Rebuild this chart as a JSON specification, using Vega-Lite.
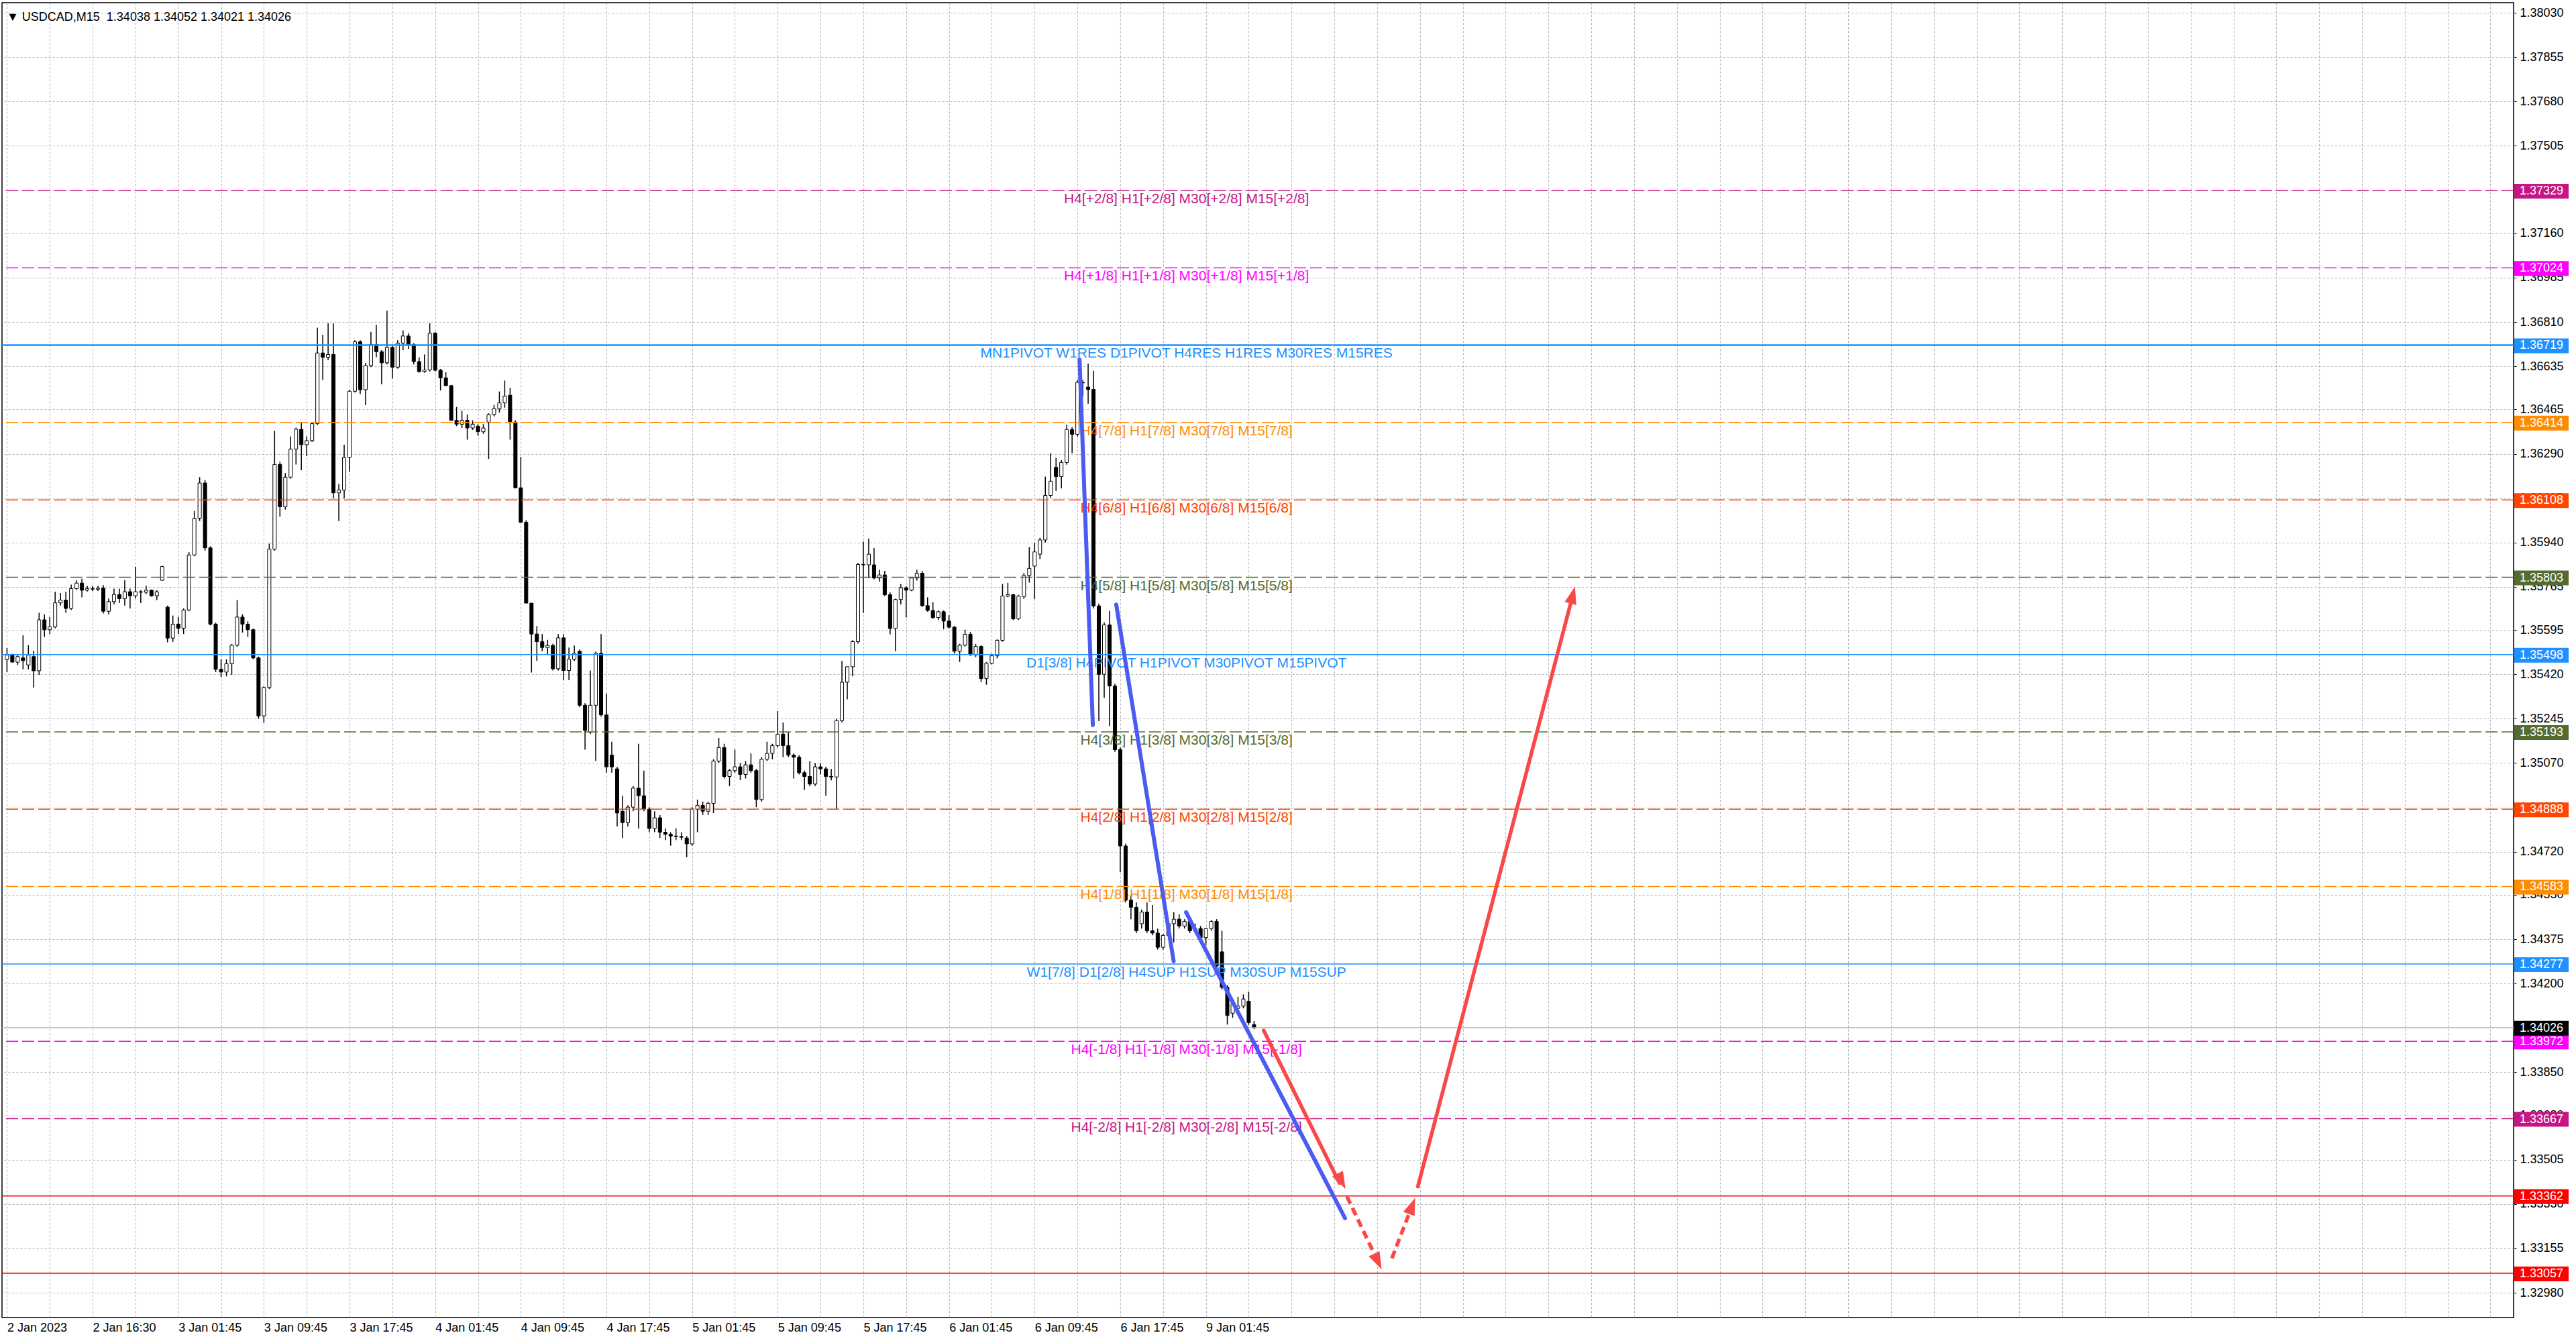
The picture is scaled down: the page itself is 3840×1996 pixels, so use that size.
{
  "$schema": "https://vega.github.io/schema/vega-lite/v6.json",
  "width": 3744,
  "height": 1960,
  "autosize": {"type": "none"},
  "padding": {"left": 3, "top": 4, "right": 93, "bottom": 32},
  "background": "white",
  "title": {
    "text": "▼\u00a0USDCAD,M15\u00a0\u00a01.34038 1.34052 1.34021 1.34026",
    "anchor": "start",
    "frame": "group",
    "baseline": "alphabetic",
    "offset": -45,
    "dx": 7,
    "fontSize": 18,
    "fontWeight": "normal",
    "font": "Liberation Sans",
    "color": "black"
  },
  "config": {
    "view": {"stroke": "black", "strokeWidth": 1.5},
    "font": "Liberation Sans"
  },
  "datasets": {
    "bars": [
      {"t":0,"o":1.35479,"h":1.35524,"l":1.35429,"c":1.35496},
      {"t":2,"o":1.35496,"h":1.35501,"l":1.35468,"c":1.35468},
      {"t":4,"o":1.35468,"h":1.35496,"l":1.35457,"c":1.35490},
      {"t":6,"o":1.35485,"h":1.35574,"l":1.35440,"c":1.35474},
      {"t":8,"o":1.35457,"h":1.35535,"l":1.35440,"c":1.35496},
      {"t":10,"o":1.35490,"h":1.35513,"l":1.35368,"c":1.35434},
      {"t":12,"o":1.35434,"h":1.35663,"l":1.35418,"c":1.35635},
      {"t":14,"o":1.35635,"h":1.35657,"l":1.35568,"c":1.35596},
      {"t":16,"o":1.35596,"h":1.35646,"l":1.35579,"c":1.35607},
      {"t":18,"o":1.35607,"h":1.35746,"l":1.35601,"c":1.35702},
      {"t":20,"o":1.35702,"h":1.35741,"l":1.35691,"c":1.35713},
      {"t":22,"o":1.35713,"h":1.35746,"l":1.35663,"c":1.35680},
      {"t":24,"o":1.35680,"h":1.35774,"l":1.35674,"c":1.35758},
      {"t":26,"o":1.35758,"h":1.35791,"l":1.35752,"c":1.35780},
      {"t":28,"o":1.35780,"h":1.35797,"l":1.35724,"c":1.35752},
      {"t":30,"o":1.35752,"h":1.35769,"l":1.35747,"c":1.35758},
      {"t":32,"o":1.35758,"h":1.35769,"l":1.35749,"c":1.35756},
      {"t":34,"o":1.35756,"h":1.35769,"l":1.35749,"c":1.35760},
      {"t":36,"o":1.35760,"h":1.35772,"l":1.35660,"c":1.35669},
      {"t":38,"o":1.35669,"h":1.35719,"l":1.35657,"c":1.35707},
      {"t":40,"o":1.35707,"h":1.35758,"l":1.35696,"c":1.35735},
      {"t":42,"o":1.35735,"h":1.35758,"l":1.35702,"c":1.35719},
      {"t":44,"o":1.35719,"h":1.35791,"l":1.35691,"c":1.35746},
      {"t":46,"o":1.35746,"h":1.35758,"l":1.35680,"c":1.35730},
      {"t":48,"o":1.35730,"h":1.35845,"l":1.35719,"c":1.35746},
      {"t":50,"o":1.35746,"h":1.35752,"l":1.35701,"c":1.35744},
      {"t":52,"o":1.35744,"h":1.35769,"l":1.35737,"c":1.35752},
      {"t":54,"o":1.35752,"h":1.35755,"l":1.35726,"c":1.35730},
      {"t":56,"o":1.35730,"h":1.35752,"l":1.35713,"c":1.35746},
      {"t":58,"o":1.35791,"h":1.35849,"l":1.35789,"c":1.35845},
      {"t":60,"o":1.35685,"h":1.35691,"l":1.35546,"c":1.35563},
      {"t":62,"o":1.35563,"h":1.35652,"l":1.35548,"c":1.35618},
      {"t":64,"o":1.35618,"h":1.35646,"l":1.35579,"c":1.35602},
      {"t":66,"o":1.35602,"h":1.35680,"l":1.35579,"c":1.35674},
      {"t":68,"o":1.35674,"h":1.35902,"l":1.35669,"c":1.35891},
      {"t":70,"o":1.35891,"h":1.36064,"l":1.35886,"c":1.36036},
      {"t":72,"o":1.36036,"h":1.36198,"l":1.36025,"c":1.36175},
      {"t":74,"o":1.36175,"h":1.36186,"l":1.35908,"c":1.35919},
      {"t":76,"o":1.35919,"h":1.35925,"l":1.35613,"c":1.35618},
      {"t":78,"o":1.35618,"h":1.35624,"l":1.35429,"c":1.35440},
      {"t":80,"o":1.35440,"h":1.35479,"l":1.35410,"c":1.35429},
      {"t":82,"o":1.35429,"h":1.35479,"l":1.35412,"c":1.35462},
      {"t":84,"o":1.35462,"h":1.35540,"l":1.35418,"c":1.35535},
      {"t":86,"o":1.35535,"h":1.35713,"l":1.35529,"c":1.35646},
      {"t":88,"o":1.35646,"h":1.35657,"l":1.35585,"c":1.35618},
      {"t":90,"o":1.35618,"h":1.35629,"l":1.35568,"c":1.35596},
      {"t":92,"o":1.35596,"h":1.35601,"l":1.35479,"c":1.35485},
      {"t":94,"o":1.35485,"h":1.35490,"l":1.35245,"c":1.35256},
      {"t":96,"o":1.35256,"h":1.35373,"l":1.35228,"c":1.35368},
      {"t":98,"o":1.35368,"h":1.35936,"l":1.35362,"c":1.35914},
      {"t":100,"o":1.35914,"h":1.36381,"l":1.35908,"c":1.36248},
      {"t":102,"o":1.36248,"h":1.36259,"l":1.36042,"c":1.36081},
      {"t":104,"o":1.36081,"h":1.36214,"l":1.36070,"c":1.36198},
      {"t":106,"o":1.36198,"h":1.36359,"l":1.36192,"c":1.36309},
      {"t":108,"o":1.36309,"h":1.36393,"l":1.36248,"c":1.36387},
      {"t":110,"o":1.36387,"h":1.36415,"l":1.36225,"c":1.36326},
      {"t":112,"o":1.36326,"h":1.36359,"l":1.36281,"c":1.36342},
      {"t":114,"o":1.36342,"h":1.36415,"l":1.36337,"c":1.36409},
      {"t":116,"o":1.36409,"h":1.36788,"l":1.36404,"c":1.36688},
      {"t":118,"o":1.36688,"h":1.36760,"l":1.36582,"c":1.36671},
      {"t":120,"o":1.36671,"h":1.36805,"l":1.36660,"c":1.36682},
      {"t":122,"o":1.36682,"h":1.36805,"l":1.36114,"c":1.36136},
      {"t":124,"o":1.36136,"h":1.36170,"l":1.36025,"c":1.36147},
      {"t":126,"o":1.36147,"h":1.36326,"l":1.36114,"c":1.36276},
      {"t":128,"o":1.36276,"h":1.36543,"l":1.36220,"c":1.36537},
      {"t":130,"o":1.36537,"h":1.36738,"l":1.36532,"c":1.36732},
      {"t":132,"o":1.36732,"h":1.36738,"l":1.36526,"c":1.36543},
      {"t":134,"o":1.36543,"h":1.36649,"l":1.36482,"c":1.36638},
      {"t":136,"o":1.36638,"h":1.36771,"l":1.36632,"c":1.36721},
      {"t":138,"o":1.36721,"h":1.36799,"l":1.36671,"c":1.36693},
      {"t":140,"o":1.36693,"h":1.36699,"l":1.36565,"c":1.36649},
      {"t":142,"o":1.36649,"h":1.36855,"l":1.36643,"c":1.36710},
      {"t":144,"o":1.36710,"h":1.36716,"l":1.36587,"c":1.36632},
      {"t":146,"o":1.36632,"h":1.36738,"l":1.36626,"c":1.36727},
      {"t":148,"o":1.36727,"h":1.36777,"l":1.36699,"c":1.36755},
      {"t":150,"o":1.36755,"h":1.36766,"l":1.36704,"c":1.36721},
      {"t":152,"o":1.36721,"h":1.36727,"l":1.36643,"c":1.36654},
      {"t":154,"o":1.36654,"h":1.36671,"l":1.36610,"c":1.36615},
      {"t":156,"o":1.36615,"h":1.36682,"l":1.36610,"c":1.36621},
      {"t":158,"o":1.36621,"h":1.36805,"l":1.36615,"c":1.36766},
      {"t":160,"o":1.36766,"h":1.36771,"l":1.36615,"c":1.36620},
      {"t":162,"o":1.36620,"h":1.36625,"l":1.36540,"c":1.36590},
      {"t":164,"o":1.36590,"h":1.36612,"l":1.36559,"c":1.36559},
      {"t":166,"o":1.36559,"h":1.36562,"l":1.36422,"c":1.36422},
      {"t":168,"o":1.36422,"h":1.36475,"l":1.36399,"c":1.36407},
      {"t":170,"o":1.36407,"h":1.36460,"l":1.36392,"c":1.36422},
      {"t":172,"o":1.36422,"h":1.36445,"l":1.36346,"c":1.36392},
      {"t":174,"o":1.36392,"h":1.36422,"l":1.36384,"c":1.36407},
      {"t":176,"o":1.36399,"h":1.36407,"l":1.36362,"c":1.36377},
      {"t":178,"o":1.36377,"h":1.36407,"l":1.36369,"c":1.36392},
      {"t":180,"o":1.36415,"h":1.36450,"l":1.36270,"c":1.36445},
      {"t":182,"o":1.36445,"h":1.36483,"l":1.36438,"c":1.36468},
      {"t":184,"o":1.36468,"h":1.36536,"l":1.36453,"c":1.36491},
      {"t":186,"o":1.36491,"h":1.36579,"l":1.36472,"c":1.36518},
      {"t":188,"o":1.36521,"h":1.36551,"l":1.36346,"c":1.36415},
      {"t":190,"o":1.36415,"h":1.36422,"l":1.36156,"c":1.36156},
      {"t":192,"o":1.36156,"h":1.36278,"l":1.36020,"c":1.36020},
      {"t":194,"o":1.36020,"h":1.36028,"l":1.35701,"c":1.35701},
      {"t":196,"o":1.35701,"h":1.35701,"l":1.35427,"c":1.35579},
      {"t":198,"o":1.35579,"h":1.35610,"l":1.35473,"c":1.35549},
      {"t":200,"o":1.35549,"h":1.35579,"l":1.35511,"c":1.35526},
      {"t":202,"o":1.35526,"h":1.35556,"l":1.35496,"c":1.35534},
      {"t":204,"o":1.35534,"h":1.35541,"l":1.35435,"c":1.35442},
      {"t":206,"o":1.35442,"h":1.35579,"l":1.35435,"c":1.35564},
      {"t":208,"o":1.35564,"h":1.35579,"l":1.35397,"c":1.35435},
      {"t":210,"o":1.35435,"h":1.35526,"l":1.35397,"c":1.35480},
      {"t":212,"o":1.35480,"h":1.35534,"l":1.35473,"c":1.35503},
      {"t":214,"o":1.35511,"h":1.35518,"l":1.35290,"c":1.35298},
      {"t":216,"o":1.35298,"h":1.35306,"l":1.35123,"c":1.35199},
      {"t":218,"o":1.35192,"h":1.35435,"l":1.35184,"c":1.35298},
      {"t":220,"o":1.35298,"h":1.35510,"l":1.35078,"c":1.35503},
      {"t":222,"o":1.35503,"h":1.35579,"l":1.35253,"c":1.35260},
      {"t":224,"o":1.35260,"h":1.35344,"l":1.35032,"c":1.35055},
      {"t":226,"o":1.35101,"h":1.35154,"l":1.35032,"c":1.35055},
      {"t":228,"o":1.35047,"h":1.35055,"l":1.34820,"c":1.34873},
      {"t":230,"o":1.34880,"h":1.34941,"l":1.34774,"c":1.34835},
      {"t":232,"o":1.34835,"h":1.34903,"l":1.34820,"c":1.34896},
      {"t":234,"o":1.34896,"h":1.34979,"l":1.34880,"c":1.34971},
      {"t":236,"o":1.34971,"h":1.35146,"l":1.34812,"c":1.34941},
      {"t":238,"o":1.34941,"h":1.35040,"l":1.34880,"c":1.34888},
      {"t":240,"o":1.34888,"h":1.34896,"l":1.34797,"c":1.34812},
      {"t":242,"o":1.34812,"h":1.34880,"l":1.34797,"c":1.34854},
      {"t":244,"o":1.34854,"h":1.34865,"l":1.34774,"c":1.34797},
      {"t":246,"o":1.34797,"h":1.34812,"l":1.34766,"c":1.34789},
      {"t":248,"o":1.34789,"h":1.34797,"l":1.34744,"c":1.34782},
      {"t":250,"o":1.34782,"h":1.34812,"l":1.34766,"c":1.34780},
      {"t":252,"o":1.34780,"h":1.34797,"l":1.34766,"c":1.34777},
      {"t":254,"o":1.34774,"h":1.34782,"l":1.34698,"c":1.34751},
      {"t":256,"o":1.34751,"h":1.34896,"l":1.34744,"c":1.34888},
      {"t":258,"o":1.34888,"h":1.34926,"l":1.34797,"c":1.34903},
      {"t":260,"o":1.34903,"h":1.34918,"l":1.34865,"c":1.34880},
      {"t":262,"o":1.34880,"h":1.34918,"l":1.34865,"c":1.34911},
      {"t":264,"o":1.34911,"h":1.35085,"l":1.34873,"c":1.35078},
      {"t":266,"o":1.35078,"h":1.35169,"l":1.35070,"c":1.35131},
      {"t":268,"o":1.35131,"h":1.35146,"l":1.35009,"c":1.35017},
      {"t":270,"o":1.35017,"h":1.35047,"l":1.34979,"c":1.35040},
      {"t":272,"o":1.35040,"h":1.35123,"l":1.35032,"c":1.35055},
      {"t":274,"o":1.35055,"h":1.35070,"l":1.35002,"c":1.35025},
      {"t":276,"o":1.35025,"h":1.35078,"l":1.35009,"c":1.35063},
      {"t":278,"o":1.35063,"h":1.35108,"l":1.35032,"c":1.35040},
      {"t":280,"o":1.35040,"h":1.35047,"l":1.34896,"c":1.34926},
      {"t":282,"o":1.34926,"h":1.35093,"l":1.34918,"c":1.35085},
      {"t":284,"o":1.35085,"h":1.35154,"l":1.35078,"c":1.35108},
      {"t":286,"o":1.35108,"h":1.35146,"l":1.35085,"c":1.35139},
      {"t":288,"o":1.35139,"h":1.35275,"l":1.35131,"c":1.35184},
      {"t":290,"o":1.35184,"h":1.35230,"l":1.35093,"c":1.35139},
      {"t":292,"o":1.35139,"h":1.35192,"l":1.35093,"c":1.35101},
      {"t":294,"o":1.35101,"h":1.35108,"l":1.35009,"c":1.35093},
      {"t":296,"o":1.35093,"h":1.35101,"l":1.35025,"c":1.35032},
      {"t":298,"o":1.35032,"h":1.35040,"l":1.34964,"c":1.35017},
      {"t":300,"o":1.35017,"h":1.35078,"l":1.34979,"c":1.34987},
      {"t":302,"o":1.34987,"h":1.35070,"l":1.34979,"c":1.35055},
      {"t":304,"o":1.35055,"h":1.35070,"l":1.35025,"c":1.35047},
      {"t":306,"o":1.35047,"h":1.35055,"l":1.34941,"c":1.35017},
      {"t":308,"o":1.35017,"h":1.35047,"l":1.35002,"c":1.35015},
      {"t":310,"o":1.35015,"h":1.35245,"l":1.34888,"c":1.35237},
      {"t":312,"o":1.35237,"h":1.35473,"l":1.35230,"c":1.35389},
      {"t":314,"o":1.35389,"h":1.35412,"l":1.35321,"c":1.35450},
      {"t":316,"o":1.35450,"h":1.35555,"l":1.35412,"c":1.35549},
      {"t":318,"o":1.35549,"h":1.35860,"l":1.35541,"c":1.35853},
      {"t":320,"o":1.35853,"h":1.35944,"l":1.35663,"c":1.35852},
      {"t":322,"o":1.35852,"h":1.35956,"l":1.35800,"c":1.35894},
      {"t":324,"o":1.35852,"h":1.35918,"l":1.35795,"c":1.35800},
      {"t":326,"o":1.35800,"h":1.35833,"l":1.35786,"c":1.35812},
      {"t":328,"o":1.35812,"h":1.35828,"l":1.35729,"c":1.35734},
      {"t":330,"o":1.35734,"h":1.35743,"l":1.35578,"c":1.35601},
      {"t":332,"o":1.35601,"h":1.35719,"l":1.35511,"c":1.35715},
      {"t":334,"o":1.35715,"h":1.35776,"l":1.35696,"c":1.35762},
      {"t":336,"o":1.35762,"h":1.35767,"l":1.35644,"c":1.35752},
      {"t":338,"o":1.35752,"h":1.35804,"l":1.35748,"c":1.35800},
      {"t":340,"o":1.35800,"h":1.35833,"l":1.35790,"c":1.35819},
      {"t":342,"o":1.35819,"h":1.35828,"l":1.35686,"c":1.35691},
      {"t":344,"o":1.35691,"h":1.35724,"l":1.35667,"c":1.35672},
      {"t":346,"o":1.35672,"h":1.35705,"l":1.35639,"c":1.35644},
      {"t":348,"o":1.35644,"h":1.35672,"l":1.35634,"c":1.35667},
      {"t":350,"o":1.35667,"h":1.35672,"l":1.35598,"c":1.35630},
      {"t":352,"o":1.35630,"h":1.35653,"l":1.35601,"c":1.35606},
      {"t":354,"o":1.35606,"h":1.35611,"l":1.35502,"c":1.35511},
      {"t":356,"o":1.35511,"h":1.35540,"l":1.35469,"c":1.35535},
      {"t":358,"o":1.35535,"h":1.35596,"l":1.35530,"c":1.35578},
      {"t":360,"o":1.35578,"h":1.35587,"l":1.35493,"c":1.35497},
      {"t":362,"o":1.35497,"h":1.35540,"l":1.35488,"c":1.35530},
      {"t":364,"o":1.35530,"h":1.35535,"l":1.35389,"c":1.35403},
      {"t":366,"o":1.35403,"h":1.35469,"l":1.35379,"c":1.35464},
      {"t":368,"o":1.35464,"h":1.35502,"l":1.35459,"c":1.35493},
      {"t":370,"o":1.35493,"h":1.35559,"l":1.35483,"c":1.35554},
      {"t":372,"o":1.35554,"h":1.35776,"l":1.35549,"c":1.35729},
      {"t":374,"o":1.35729,"h":1.35781,"l":1.35724,"c":1.35734},
      {"t":376,"o":1.35734,"h":1.35738,"l":1.35634,"c":1.35639},
      {"t":378,"o":1.35639,"h":1.35734,"l":1.35634,"c":1.35729},
      {"t":380,"o":1.35727,"h":1.35820,"l":1.35717,"c":1.35810},
      {"t":382,"o":1.35810,"h":1.35922,"l":1.35782,"c":1.35838},
      {"t":384,"o":1.35847,"h":1.35940,"l":1.35717,"c":1.35903},
      {"t":386,"o":1.35894,"h":1.35959,"l":1.35875,"c":1.35950},
      {"t":388,"o":1.35950,"h":1.36200,"l":1.35940,"c":1.36126},
      {"t":390,"o":1.36126,"h":1.36293,"l":1.36117,"c":1.36182},
      {"t":392,"o":1.36237,"h":1.36274,"l":1.36144,"c":1.36200},
      {"t":394,"o":1.36200,"h":1.36265,"l":1.36154,"c":1.36256},
      {"t":396,"o":1.36256,"h":1.36405,"l":1.36247,"c":1.36386},
      {"t":398,"o":1.36386,"h":1.36395,"l":1.36293,"c":1.36367},
      {"t":400,"o":1.36367,"h":1.36581,"l":1.36358,"c":1.36572},
      {"t":402,"o":1.36572,"h":1.36581,"l":1.36516,"c":1.36570},
      {"t":404,"o":1.36553,"h":1.36646,"l":1.36488,"c":1.36544},
      {"t":406,"o":1.36544,"h":1.36618,"l":1.35680,"c":1.35690},
      {"t":408,"o":1.35690,"h":1.35699,"l":1.35235,"c":1.35420},
      {"t":410,"o":1.35420,"h":1.35625,"l":1.35327,"c":1.35615},
      {"t":412,"o":1.35615,"h":1.35671,"l":1.35216,"c":1.35374},
      {"t":414,"o":1.35374,"h":1.35383,"l":1.35114,"c":1.35123},
      {"t":416,"o":1.35123,"h":1.35132,"l":1.34640,"c":1.34743},
      {"t":418,"o":1.34743,"h":1.34752,"l":1.34520,"c":1.34529},
      {"t":420,"o":1.34529,"h":1.34547,"l":1.34454,"c":1.34501},
      {"t":422,"o":1.34501,"h":1.34520,"l":1.34399,"c":1.34408},
      {"t":424,"o":1.34436,"h":1.34492,"l":1.34417,"c":1.34482},
      {"t":426,"o":1.34482,"h":1.34520,"l":1.34399,"c":1.34408},
      {"t":428,"o":1.34408,"h":1.34510,"l":1.34390,"c":1.34399},
      {"t":430,"o":1.34399,"h":1.34417,"l":1.34334,"c":1.34343},
      {"t":432,"o":1.34343,"h":1.34395,"l":1.34334,"c":1.34390},
      {"t":434,"o":1.34390,"h":1.34445,"l":1.34381,"c":1.34436},
      {"t":436,"o":1.34436,"h":1.34482,"l":1.34362,"c":1.34454},
      {"t":438,"o":1.34454,"h":1.34473,"l":1.34417,"c":1.34427},
      {"t":440,"o":1.34427,"h":1.34454,"l":1.34417,"c":1.34445},
      {"t":442,"o":1.34445,"h":1.34454,"l":1.34399,"c":1.34408},
      {"t":444,"o":1.34408,"h":1.34436,"l":1.34399,"c":1.34417},
      {"t":446,"o":1.34417,"h":1.34427,"l":1.34371,"c":1.34381},
      {"t":448,"o":1.34381,"h":1.34420,"l":1.34352,"c":1.34417},
      {"t":450,"o":1.34417,"h":1.34450,"l":1.34408,"c":1.34445},
      {"t":452,"o":1.34445,"h":1.34454,"l":1.34260,"c":1.34269},
      {"t":454,"o":1.34325,"h":1.34408,"l":1.34176,"c":1.34185},
      {"t":456,"o":1.34185,"h":1.34194,"l":1.34038,"c":1.34074},
      {"t":458,"o":1.34083,"h":1.34139,"l":1.34065,"c":1.34120},
      {"t":460,"o":1.34102,"h":1.34148,"l":1.34083,"c":1.34111},
      {"t":462,"o":1.34111,"h":1.34157,"l":1.34102,"c":1.34139},
      {"t":464,"o":1.34130,"h":1.34167,"l":1.34037,"c":1.34046},
      {"t":466,"o":1.34038,"h":1.34052,"l":1.34021,"c":1.34026}
    ],
    "levels": [
      {"lvl":"+2/8","p":1.37329,"label":"H4[+2/8] H1[+2/8] M30[+2/8] M15[+2/8]"},
      {"lvl":"+1/8","p":1.37024,"label":"H4[+1/8] H1[+1/8] M30[+1/8] M15[+1/8]"},
      {"lvl":"8/8","p":1.36719,"label":"MN1PIVOT W1RES D1PIVOT H4RES H1RES M30RES M15RES"},
      {"lvl":"7/8","p":1.36414,"label":"H4[7/8] H1[7/8] M30[7/8] M15[7/8]"},
      {"lvl":"6/8","p":1.36108,"label":"H4[6/8] H1[6/8] M30[6/8] M15[6/8]"},
      {"lvl":"5/8","p":1.35803,"label":"H4[5/8] H1[5/8] M30[5/8] M15[5/8]"},
      {"lvl":"4/8","p":1.35498,"label":"D1[3/8] H4PIVOT H1PIVOT M30PIVOT M15PIVOT"},
      {"lvl":"3/8","p":1.35193,"label":"H4[3/8] H1[3/8] M30[3/8] M15[3/8]"},
      {"lvl":"2/8","p":1.34888,"label":"H4[2/8] H1[2/8] M30[2/8] M15[2/8]"},
      {"lvl":"1/8","p":1.34583,"label":"H4[1/8] H1[1/8] M30[1/8] M15[1/8]"},
      {"lvl":"0/8","p":1.34277,"label":"W1[7/8] D1[2/8] H4SUP H1SUP M30SUP M15SUP"},
      {"lvl":"-1/8","p":1.33972,"label":"H4[-1/8] H1[-1/8] M30[-1/8] M15[-1/8]"},
      {"lvl":"-2/8","p":1.33667,"label":"H4[-2/8] H1[-2/8] M30[-2/8] M15[-2/8]"},
      {"lvl":"R1","p":1.33362,"label":""},
      {"lvl":"R2","p":1.33057,"label":""},
      {"lvl":"bid","p":1.34026,"label":""}
    ],
    "blue": [
      {"seg":"b1","t":400.8,"p":1.36661},
      {"seg":"b1","t":405.75,"p":1.35220},
      {"seg":"b2","t":414.5,"p":1.35695},
      {"seg":"b2","t":435.95,"p":1.34288},
      {"seg":"b3","t":440.6,"p":1.34481},
      {"seg":"b3","t":499.98,"p":1.33274}
    ],
    "redSolid": [
      {"seg":"r1","t":469.6,"p":1.34015},
      {"seg":"r1","t":497.9,"p":1.33413},
      {"seg":"r2","t":527.2,"p":1.33399},
      {"seg":"r2","t":585.3,"p":1.35740}
    ],
    "redDash": [
      {"seg":"d1","t":500.7,"p":1.33360},
      {"seg":"d1","t":512.6,"p":1.33096},
      {"seg":"d2","t":517.5,"p":1.33116},
      {"seg":"d2","t":525.3,"p":1.33330}
    ],
    "heads": [
      {"id":"a1","t":500.2,"p":1.33389},
      {"id":"a2","t":513.65,"p":1.33072},
      {"id":"a3","t":526.2,"p":1.33355},
      {"id":"a4","t":585.9,"p":1.35766}
    ]
  },
  "layer": [
    {
      "data": {"name": "bars"},
      "mark": {"type": "rule", "color": "black", "strokeWidth": 1.5},
      "encoding": {
        "x": {
          "field": "t",
          "type": "quantitative",
          "title": null,
          "scale": {"domain": [-0.6, 935.4], "nice": false, "zero": false},
          "axis": {
            "title": null,
            "values": [0,16,32,48,64,80,96,112,128,144,160,176,192,208,224,240,256,272,288,304,320,336,352,368,384,400,416,432,448,464,480,496,512,528,544,560,576,592,608,624,640,656,672,688,704,720,736,752,768,784,800,816,832,848,864,880,896,912,928],
            "labelExpr": "datum.value % 32 == 0 && datum.value <= 448 ? ['2 Jan 2023','2 Jan 16:30','3 Jan 01:45','3 Jan 09:45','3 Jan 17:45','4 Jan 01:45','4 Jan 09:45','4 Jan 17:45','5 Jan 01:45','5 Jan 09:45','5 Jan 17:45','6 Jan 01:45','6 Jan 09:45','6 Jan 17:45','9 Jan 01:45'][datum.value / 32] : ''",
            "labelAlign": "left",
            "labelBaseline": "top",
            "labelPadding": 6,
            "labelFontSize": 18,
            "labelColor": "black",
            "labelOverlap": false,
            "labelFlush": false,
            "labelBound": false,
            "ticks": false,
            "domain": false,
            "grid": true,
            "gridColor": "#b4b4b4",
            "gridDash": [3, 3],
            "gridWidth": 1.1
          }
        },
        "y": {
          "field": "l",
          "type": "quantitative",
          "title": null,
          "scale": {"domain": [1.328822, 1.380701], "nice": false, "zero": false},
          "axis": {
            "title": null,
            "orient": "right",
            "values": [1.38030,1.37855,1.37680,1.37505,1.37330,1.37160,1.36985,1.36810,1.36635,1.36465,1.36290,1.36115,1.35940,1.35765,1.35595,1.35420,1.35245,1.35070,1.34895,1.34720,1.34550,1.34375,1.34200,1.34025,1.33850,1.33680,1.33505,1.33330,1.33155,1.32980],
            "format": ".5f",
            "tickSize": 4,
            "tickColor": "black",
            "labelPadding": 5,
            "labelFontSize": 18,
            "labelColor": "black",
            "labelOverlap": false,
            "labelFlush": false,
            "labelBound": false,
            "domain": false,
            "grid": true,
            "gridColor": "#b4b4b4",
            "gridDash": [3, 3],
            "gridWidth": 1.1
          }
        },
        "y2": {"field": "h"}
      }
    },
    {
      "data": {"name": "bars"},
      "mark": {"type": "bar", "width": 5, "stroke": "black", "strokeWidth": 1},
      "encoding": {
        "x": {"field": "t", "type": "quantitative", "title": null},
        "y": {"field": "o", "type": "quantitative", "title": null},
        "y2": {"field": "c"},
        "fill": {"condition": {"test": "datum.c >= datum.o", "value": "white"}, "value": "black"}
      }
    },
    {
      "data": {"name": "levels"},
      "transform": [{"filter": {"field": "lvl", "oneOf": ["+2/8","+1/8","7/8","6/8","5/8","3/8","2/8","1/8","-1/8","-2/8"]}}],
      "mark": {"type": "rule", "strokeWidth": 1.4, "strokeDash": [18, 6]},
      "encoding": {
        "y": {"field": "p", "type": "quantitative", "title": null},
        "stroke": {
          "field": "lvl", "type": "nominal", "legend": null,
          "scale": {
            "domain": ["+2/8","+1/8","8/8","7/8","6/8","5/8","4/8","3/8","2/8","1/8","0/8","-1/8","-2/8","R1","R2","bid"],
            "range": ["#C71585","#FF00FF","#1E90FF","#FF8C00","#FF4500","#556B2F","#1E90FF","#556B2F","#FF4500","#FF8C00","#1E90FF","#FF00FF","#C71585","#FF0000","#FF0000","#B4B4B4"]
          }
        }
      }
    },
    {
      "data": {"name": "levels"},
      "transform": [{"filter": {"field": "lvl", "oneOf": ["4/8","0/8","R1","R2","bid"]}}],
      "mark": {"type": "rule", "strokeWidth": 1.4},
      "encoding": {
        "y": {"field": "p", "type": "quantitative", "title": null},
        "stroke": {"field": "lvl", "type": "nominal", "legend": null}
      }
    },
    {
      "data": {"name": "levels"},
      "transform": [{"filter": {"field": "lvl", "equal": "8/8"}}],
      "mark": {"type": "rule", "strokeWidth": 2.4},
      "encoding": {
        "y": {"field": "p", "type": "quantitative", "title": null},
        "stroke": {"field": "lvl", "type": "nominal", "legend": null}
      }
    },
    {
      "data": {"name": "levels"},
      "transform": [{"filter": "datum.label != ''"}],
      "mark": {"type": "text", "align": "center", "baseline": "top", "dy": 2, "fontSize": 21},
      "encoding": {
        "x": {"datum": 440.75, "type": "quantitative"},
        "y": {"field": "p", "type": "quantitative", "title": null},
        "text": {"field": "label"},
        "fill": {
          "field": "lvl", "type": "nominal", "legend": null,
          "scale": {
            "domain": ["+2/8","+1/8","8/8","7/8","6/8","5/8","4/8","3/8","2/8","1/8","0/8","-1/8","-2/8","R1","R2","bid"],
            "range": ["#C71585","#FF00FF","#1E90FF","#FF8C00","#FF4500","#556B2F","#1E90FF","#556B2F","#FF4500","#FF8C00","#1E90FF","#FF00FF","#C71585","#FF0000","#FF0000","#000000"]
          }
        }
      }
    },
    {
      "data": {"name": "levels"},
      "mark": {"type": "rect", "xOffset": 1, "x2Offset": 82, "yOffset": -10, "y2Offset": 12},
      "encoding": {
        "x": {"value": "width"},
        "x2": {"value": "width"},
        "y": {"field": "p", "type": "quantitative", "title": null},
        "y2": {"field": "p"},
        "fill": {"field": "lvl", "type": "nominal", "legend": null}
      }
    },
    {
      "data": {"name": "levels"},
      "mark": {"type": "text", "align": "left", "baseline": "middle", "dx": 9, "dy": 1, "fontSize": 18, "fill": "white"},
      "encoding": {
        "x": {"value": "width"},
        "y": {"field": "p", "type": "quantitative", "title": null},
        "text": {"field": "p", "type": "quantitative", "format": ".5f"}
      }
    },
    {
      "data": {"name": "blue"},
      "mark": {"type": "line", "color": "#4B5CF2", "strokeWidth": 6, "strokeCap": "round"},
      "encoding": {
        "x": {"field": "t", "type": "quantitative", "title": null},
        "y": {"field": "p", "type": "quantitative", "title": null},
        "detail": {"field": "seg"}
      }
    },
    {
      "data": {"name": "redSolid"},
      "mark": {"type": "line", "color": "#F94848", "strokeWidth": 5.5, "strokeCap": "round"},
      "encoding": {
        "x": {"field": "t", "type": "quantitative", "title": null},
        "y": {"field": "p", "type": "quantitative", "title": null},
        "detail": {"field": "seg"}
      }
    },
    {
      "data": {"name": "redDash"},
      "mark": {"type": "line", "color": "#F94848", "strokeWidth": 5.5, "strokeDash": [12, 7]},
      "encoding": {
        "x": {"field": "t", "type": "quantitative", "title": null},
        "y": {"field": "p", "type": "quantitative", "title": null},
        "detail": {"field": "seg"}
      }
    },
    {
      "data": {"name": "heads"},
      "transform": [{"filter": "datum.id == 'a1'"}],
      "mark": {"type": "point", "shape": "M0,0L0.45,1.3L-0.45,1.3Z", "size": 1600, "angle": 152.6, "filled": true, "fill": "#F94848", "strokeWidth": 0, "opacity": 1},
      "encoding": {
        "x": {"field": "t", "type": "quantitative", "title": null},
        "y": {"field": "p", "type": "quantitative", "title": null}
      }
    },
    {
      "data": {"name": "heads"},
      "transform": [{"filter": "datum.id == 'a2'"}],
      "mark": {"type": "point", "shape": "M0,0L0.45,1.3L-0.45,1.3Z", "size": 1600, "angle": 154.6, "filled": true, "fill": "#F94848", "strokeWidth": 0, "opacity": 1},
      "encoding": {
        "x": {"field": "t", "type": "quantitative", "title": null},
        "y": {"field": "p", "type": "quantitative", "title": null}
      }
    },
    {
      "data": {"name": "heads"},
      "transform": [{"filter": "datum.id == 'a3'"}],
      "mark": {"type": "point", "shape": "M0,0L0.45,1.3L-0.45,1.3Z", "size": 1600, "angle": 21, "filled": true, "fill": "#F94848", "strokeWidth": 0, "opacity": 1},
      "encoding": {
        "x": {"field": "t", "type": "quantitative", "title": null},
        "y": {"field": "p", "type": "quantitative", "title": null}
      }
    },
    {
      "data": {"name": "heads"},
      "transform": [{"filter": "datum.id == 'a4'"}],
      "mark": {"type": "point", "shape": "M0,0L0.45,1.3L-0.45,1.3Z", "size": 1600, "angle": 14.7, "filled": true, "fill": "#F94848", "strokeWidth": 0, "opacity": 1},
      "encoding": {
        "x": {"field": "t", "type": "quantitative", "title": null},
        "y": {"field": "p", "type": "quantitative", "title": null}
      }
    }
  ]
}
